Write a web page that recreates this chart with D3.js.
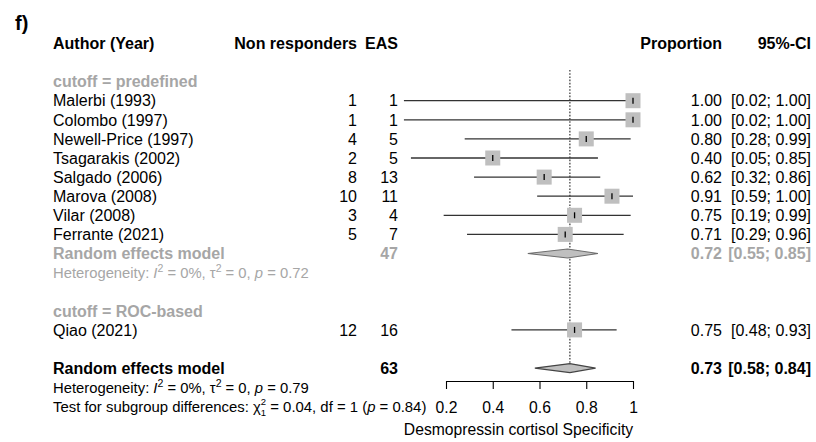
<!DOCTYPE html>
<html>
<head>
<meta charset="utf-8">
<script src="https://cdn.jsdelivr.net/npm/d3@7"></script>
<style>
  html, body { margin: 0; padding: 0; background: #fff; }
  svg { display: block; font-family: "Liberation Sans", Arial, sans-serif; }
</style>
</head>
<body>
<svg id="chart" width="816" height="442"></svg>
<script>
// Study-level data
const studies = ["Malerbi (1993)", "Colombo (1997)", "Newell-Price (1997)", "Tsagarakis (2002)",
  "Salgado (2006)", "Marova (2008)", "Vilar (2008)", "Ferrante (2021)", "Qiao (2021)"];
const subgroup = ["predefined", "predefined", "predefined", "predefined",
  "predefined", "predefined", "predefined", "predefined", "ROC-based"];
const nonResponders = [1, 1, 4, 2, 8, 10, 3, 5, 12];
const eas = [1, 1, 5, 5, 13, 11, 4, 7, 16];
const proportion = [1.00, 1.00, 0.80, 0.40, 0.62, 0.91, 0.75, 0.71, 0.75];
const ciLower = [0.02, 0.02, 0.28, 0.05, 0.32, 0.59, 0.19, 0.29, 0.48];
const ciUpper = [1.00, 1.00, 0.99, 0.85, 0.86, 1.00, 0.99, 0.96, 0.93];

// Pooled estimates
const subgroupPooled = { name: "predefined", total: 47, est: 0.72, lo: 0.55, hi: 0.85,
  i2: "0%", tau2: "0", p: "0.72" };
const overallPooled = { total: 63, est: 0.73, lo: 0.58, hi: 0.84, i2: "0%", tau2: "0", p: "0.79" };
const subgroupTest = { chi2: "0.04", df: 1, p: "0.84" };

// Axis
const tickValues = [0.2, 0.4, 0.6, 0.8, 1];
const axisTitle = "Desmopressin cortisol Specificity";

const svg = d3.select("#chart");
const fmt = d3.format(".2f");

const x = d3.scaleLinear().domain([0.2, 1]).range([446, 633]);
// row index -> vertical centre
const y = d3.scaleLinear().domain([0, 1]).range([100.7, 119.8]);

const grey = "#a6a6a6";
const mainSize = "16px";
const hetSize = "14.8px";
const testSize = "14.9px";
const colLeft = 53, colNR = 357, colEAS = 398, colProp = 722, colCI = 811;

function txt(g, xPos, row, s, opts = {}) {
  return g.append("text")
    .attr("x", xPos).attr("y", y(row)).attr("dy", "0.36em")
    .attr("text-anchor", opts.anchor || "start")
    .attr("font-size", opts.size || mainSize)
    .attr("font-weight", opts.bold ? "bold" : "normal")
    .attr("fill", opts.color || "#000")
    .text(s);
}
const ciText = (lo, hi) => `[${fmt(lo)}; ${fmt(hi)}]`;

// Panel label
svg.append("text").attr("x", 15).attr("y", 30).attr("font-size", "20px")
  .attr("font-weight", "bold").text("f)");

// Header
const head = svg.append("g");
txt(head, colLeft, -3, "Author (Year)", { bold: true });
txt(head, colNR, -3, "Non responders", { bold: true, anchor: "end" });
txt(head, colEAS, -3, "EAS", { bold: true, anchor: "end" });
txt(head, colProp, -3, "Proportion", { bold: true, anchor: "end" });
txt(head, colCI, -3, "95%-CI", { bold: true, anchor: "end" });

// Row layout
const rows = [];
let r = -1;
const groups = Array.from(new Set(subgroup));
groups.forEach(gName => {
  rows.push({ type: "group", row: r, label: "cutoff = " + gName });
  r++;
  studies.forEach((s, i) => {
    if (subgroup[i] === gName) { rows.push({ type: "study", row: r, i }); r++; }
  });
  if (gName === subgroupPooled.name) {
    rows.push({ type: "subpool", row: r }); r++;
    rows.push({ type: "subhet", row: r }); r++;
  }
  r++;
});
const overallRow = r;

// Reference line at overall estimate
svg.append("line")
  .attr("x1", x(overallPooled.est)).attr("x2", x(overallPooled.est))
  .attr("y1", 70).attr("y2", y(overallRow) - 4)
  .attr("stroke", "#333").attr("stroke-width", 1.2)
  .attr("stroke-dasharray", "1.6,1.6");

function heterogeneity(g, row, d, color) {
  const t = g.append("text").attr("x", colLeft).attr("y", y(row)).attr("dy", "0.36em")
    .attr("font-size", hetSize).attr("fill", color);
  t.append("tspan").text("Heterogeneity: ");
  t.append("tspan").attr("font-style", "italic").text("I");
  t.append("tspan").attr("dy", -6).attr("font-size", "10.5px").text("2");
  t.append("tspan").attr("dy", 6).text(` = ${d.i2}, τ`);
  t.append("tspan").attr("dy", -6).attr("font-size", "10.5px").text("2");
  t.append("tspan").attr("dy", 6).text(` = ${d.tau2}, `);
  t.append("tspan").attr("font-style", "italic").text("p");
  t.append("tspan").text(` = ${d.p}`);
}

function diamond(g, d, row, fill, stroke) {
  const cy = y(row), h = 4.5;
  g.append("path")
    .attr("d", `M${x(d.lo)},${cy} L${x(d.est)},${cy - h} L${x(d.hi)},${cy} L${x(d.est)},${cy + h} Z`)
    .attr("fill", fill).attr("stroke", stroke).attr("stroke-width", 1.1);
}

const body = svg.append("g");
rows.forEach(rw => {
  if (rw.type === "group") {
    txt(body, colLeft, rw.row, rw.label, { bold: true, color: grey });
  } else if (rw.type === "study") {
    const i = rw.i, cy = y(rw.row);
    txt(body, colLeft, rw.row, studies[i]);
    txt(body, colNR, rw.row, nonResponders[i], { anchor: "end" });
    txt(body, colEAS, rw.row, eas[i], { anchor: "end" });
    txt(body, colProp, rw.row, fmt(proportion[i]), { anchor: "end" });
    txt(body, colCI, rw.row, ciText(ciLower[i], ciUpper[i]), { anchor: "end" });
    body.append("line")
      .attr("x1", x(ciLower[i])).attr("x2", x(ciUpper[i]))
      .attr("y1", cy).attr("y2", cy)
      .attr("stroke", "#333").attr("stroke-width", 1.3);
    const sz = 15;
    body.append("rect")
      .attr("x", x(proportion[i]) - sz / 2).attr("y", cy - sz / 2)
      .attr("width", sz).attr("height", sz).attr("fill", "#bfbfbf");
    body.append("line")
      .attr("x1", x(proportion[i])).attr("x2", x(proportion[i]))
      .attr("y1", cy - 3).attr("y2", cy + 3)
      .attr("stroke", "#000").attr("stroke-width", 1.3);
  } else if (rw.type === "subpool") {
    const d = subgroupPooled;
    txt(body, colLeft, rw.row, "Random effects model", { bold: true, color: grey });
    txt(body, colEAS, rw.row, d.total, { bold: true, color: grey, anchor: "end" });
    txt(body, colProp, rw.row, fmt(d.est), { bold: true, color: grey, anchor: "end" });
    txt(body, colCI, rw.row, ciText(d.lo, d.hi), { bold: true, color: grey, anchor: "end" });
    diamond(body, d, rw.row, "#bfbfbf", "#6e6e6e");
  } else if (rw.type === "subhet") {
    heterogeneity(body, rw.row, subgroupPooled, grey);
  }
});

// Overall pooled row
const o = overallPooled;
txt(body, colLeft, overallRow, "Random effects model", { bold: true });
txt(body, colEAS, overallRow, o.total, { bold: true, anchor: "end" });
txt(body, colProp, overallRow, fmt(o.est), { bold: true, anchor: "end" });
txt(body, colCI, overallRow, ciText(o.lo, o.hi), { bold: true, anchor: "end" });
diamond(body, o, overallRow, "#bfbfbf", "#444");
heterogeneity(body, overallRow + 1, o, "#000");

// Test for subgroup differences (chi-square with stacked df subscript)
const tt = body.append("text").attr("x", colLeft).attr("y", y(overallRow + 2)).attr("dy", "0.36em")
  .attr("font-size", testSize).attr("fill", "#000");
tt.append("tspan").text("Test for subgroup differences: χ");
tt.append("tspan").attr("dy", -6.5).attr("font-size", "9.5px").text("2");
tt.append("tspan").attr("dx", -5.3).attr("dy", 10.5).attr("font-size", "9.5px").text(String(subgroupTest.df));
tt.append("tspan").attr("dy", -4).text(` = ${subgroupTest.chi2}, df = ${subgroupTest.df} (`);
tt.append("tspan").attr("font-style", "italic").text("p");
tt.append("tspan").text(` = ${subgroupTest.p})`);

// X axis
const axisY = 381;
const axis = d3.axisBottom(x).tickValues(tickValues)
  .tickFormat(d => d === 1 ? "1" : String(d))
  .tickSize(8).tickSizeOuter(0).tickPadding(13);
const ax = svg.append("g").attr("transform", `translate(0,${axisY})`).call(axis);
ax.select(".domain").attr("stroke", "#000").attr("stroke-width", 1.1);
ax.selectAll(".tick line").attr("stroke", "#000").attr("stroke-width", 1.1);
ax.selectAll(".tick text").attr("font-size", "15.7px").attr("fill", "#000")
  .attr("font-family", "\"Liberation Sans\", Arial, sans-serif");

svg.append("text").attr("x", 518.5).attr("y", 435)
  .attr("text-anchor", "middle").attr("font-size", "15.7px").text(axisTitle);
</script>
</body>
</html>
